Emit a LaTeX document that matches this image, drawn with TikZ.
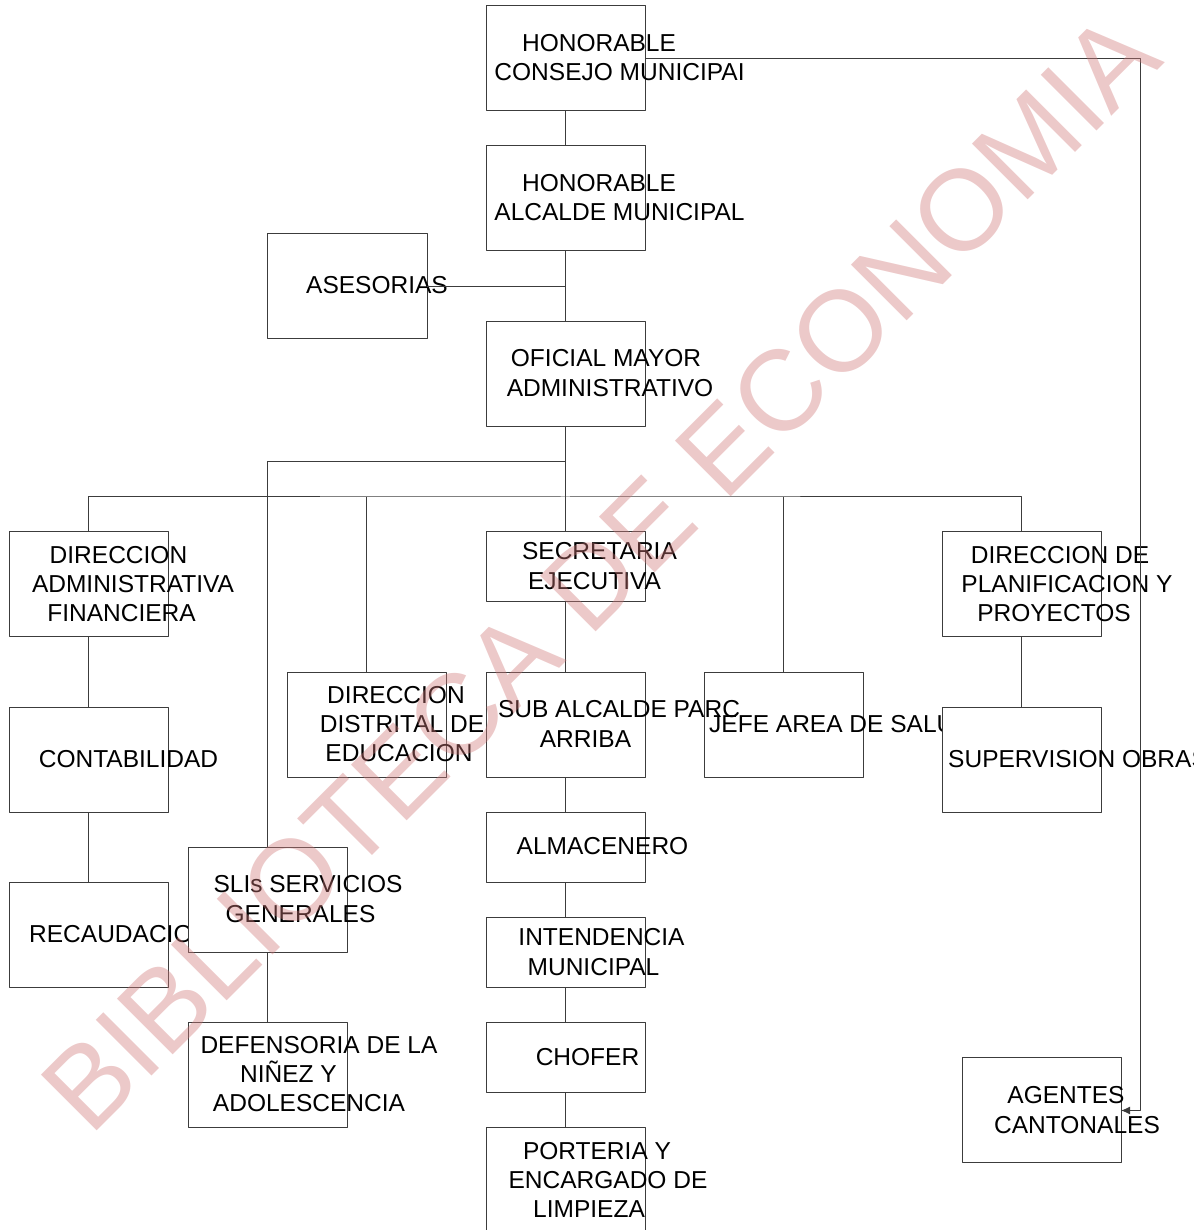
\documentclass[tikz,border=0pt]{standalone}
\usepackage{fontspec}
\setmainfont{Liberation Sans}
\usepackage{tikz}
\usetikzlibrary{arrows.meta}
\definecolor{linegray}{RGB}{60,60,60}
\definecolor{markpink}{RGB}{208,120,120}

\begin{document}
\begin{tikzpicture}[>={Latex[length=9bp,width=8bp]},line join=bevel,
  box/.style={draw=linegray,line width=1bp,minimum width=159bp,minimum height=105bp,inner sep=0pt,outer sep=0pt},
  lowbox/.style={box,minimum height=70bp},
  lbl/.style={align=center,inner sep=0pt,font=\fontsize{24.6}{29.5}\selectfont},
  wire/.style={draw=linegray,line width=1bp},
]
\useasboundingbox (0bp,0bp) rectangle (1194bp,1230bp);
%%
\node (consejo) at (565.5bp,1171.5bp) [box] {};
  \node (alcalde) at (565.5bp,1031.5bp) [box] {};
  \node (asesorias) at (347.0bp,943.5bp) [box,minimum width=160bp] {};
  \node (oficial) at (565.5bp,855.5bp) [box] {};
  \node (diradm) at (88.5bp,645.5bp) [box] {};
  \node (secretaria) at (565.5bp,663.0bp) [lowbox] {};
  \node (dirplan) at (1021.5bp,645.5bp) [box] {};
  \node (contab) at (88.5bp,470.0bp) [box] {};
  \node (distrital) at (366.5bp,505.0bp) [box] {};
  \node (subalc) at (565.5bp,505.0bp) [box] {};
  \node (jefe) at (783.5bp,505.0bp) [box] {};
  \node (recaud) at (88.5bp,294.5bp) [box] {};
  \node (almacen) at (565.5bp,382.0bp) [lowbox] {};
  \node (intend) at (565.5bp,277.0bp) [lowbox] {};
  \node (chofer) at (565.5bp,172.0bp) [lowbox] {};
  \node (porteria) at (565.5bp,49.5bp) [box] {};
  \node (defens) at (267.5bp,154.5bp) [box] {};
  \node (agentes) at (1041.5bp,119.5bp) [box] {};
%
\node (tconsejo) at (619.5bp,1172.5bp) [lbl] {\hspace*{-41bp}HONORABLE\\CONSEJO MUNICIPAI};
  \node (talcalde) at (619.5bp,1032.5bp) [lbl] {\hspace*{-41bp}HONORABLE\\ALCALDE MUNICIPAL};
  \node (tasesorias) at (377.0bp,945.0bp) [lbl] {ASESORIAS};
  \node (toficial) at (610.0bp,857.0bp) [lbl] {\hspace*{-8bp}OFICIAL MAYOR\\ADMINISTRATIVO};
  \node (tdiradm) at (133.0bp,646.0bp) [lbl] {\hspace*{-29bp}DIRECCION\\ADMINISTRATIVA\\\hspace*{-23bp}FINANCIERA};
  \node (tsecretaria) at (599.5bp,664.0bp) [lbl] {SECRETARIA\\\hspace*{-10bp}EJECUTIVA};
  \node (tdirplan) at (1067.0bp,646.0bp) [lbl] {\hspace*{-14bp}DIRECCION DE\\PLANIFICACION Y\\\hspace*{-26bp}PROYECTOS};
  \node (tcontab) at (128.5bp,471.0bp) [lbl] {CONTABILIDAD};
  \node (tdistrital) at (402.0bp,506.0bp) [lbl] {\hspace*{-12bp}DIRECCION\\DISTRITAL DE\\\hspace*{-6bp}EDUCACION};
  \node (tsubalc) at (619.0bp,506.0bp) [lbl] {SUB ALCALDE PARC\\\hspace*{-67bp}ARRIBA};
  \node (tjefe) at (709.0bp,506.0bp) [lbl,anchor=west] {JEFE AREA DE SALUD};
  \node (trecaud) at (29.0bp,296.0bp) [lbl,anchor=west] {RECAUDACION};
  \node (talmacen) at (602.5bp,384.0bp) [lbl] {ALMACENERO};
  \node (tintend) at (601.5bp,278.0bp) [lbl] {INTENDENCIA\\\hspace*{-16bp}MUNICIPAL};
  \node (tchofer) at (587.5bp,173.0bp) [lbl] {CHOFER};
  \node (tporteria) at (608.0bp,50.0bp) [lbl] {\hspace*{-22bp}PORTERIA Y\\ENCARGADO DE\\\hspace*{-38bp}LIMPIEZA};
  \node (tdefens) at (319.0bp,156.0bp) [lbl] {DEFENSORIA DE LA\\\hspace*{-61bp}NIÑEZ Y\\\hspace*{-20bp}ADOLESCENCIA};
  \node (tagentes) at (1077.0bp,120.0bp) [lbl] {\hspace*{-22bp}AGENTES\\CANTONALES};
%
\node (superv) at (1021.5bp,470.0bp) [box,fill=white] {};
  \node (tsuperv) at (948.0bp,471.0bp) [lbl,anchor=west] {SUPERVISION OBRAS};
  \node (slis) at (267.5bp,329.5bp) [box,fill=white] {};
  \node (tslis) at (308.0bp,331.0bp) [lbl] {SLIs SERVICIOS\\\hspace*{-15bp}GENERALES};
%
\coordinate (fork) at (565.5bp,768.0bp);
  \coordinate (bus) at (565.5bp,733.0bp);
  \draw [wire] (consejo) -- (alcalde);
  \draw [wire] (alcalde) -- (oficial);
  \draw [wire] (asesorias.east) -- (asesorias.east -| alcalde.south);
  \draw [wire] (oficial) -- (secretaria);
  \draw [wire] (fork) -| (slis.north);
  \draw [wire] (diradm.north) |- (bus) -| (dirplan.north);
  \draw [wire] (distrital.north) -- (distrital.north |- bus);
  \draw [wire] (jefe.north) -- (jefe.north |- bus);
  \draw [wire] (diradm) -- (contab);
  \draw [wire] (contab) -- (recaud);
  \draw [wire] (secretaria) -- (subalc);
  \draw [wire] (subalc) -- (almacen);
  \draw [wire] (almacen) -- (intend);
  \draw [wire] (intend) -- (chofer);
  \draw [wire] (chofer) -- (porteria);
  \draw [wire] (dirplan) -- (superv);
  \draw [wire] (slis) -- (defens);
  \draw [wire,->] (consejo.east) -- ++(495bp,0) |- (agentes.east);
%
\node (marca) at (628.0bp,630.0bp) [rotate=45,anchor=base,inner sep=0pt,text=markpink,text opacity=0.4,font=\fontsize{115}{115}\selectfont] {BIBLIOTECA DE ECONOMIA};
%
\end{tikzpicture}
\end{document}
